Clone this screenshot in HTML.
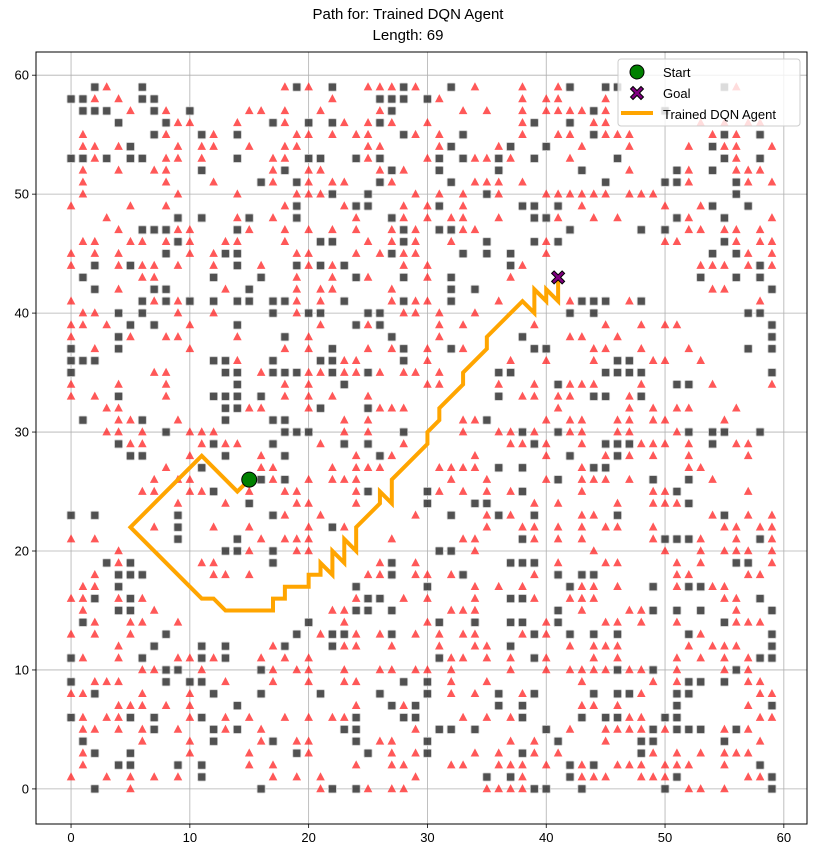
<!DOCTYPE html>
<html><head><meta charset="utf-8"><style>
html,body{margin:0;padding:0;background:#fff;}
svg{display:block;font-family:"Liberation Sans","DejaVu Sans",sans-serif;}
</style></head><body>
<svg id="chart" width="817" height="856" viewBox="0 0 817 856" xmlns="http://www.w3.org/2000/svg">
<rect width="817" height="856" fill="#fff"/>
<text x="408" y="19" text-anchor="middle" font-size="15" fill="#000">Path for: Trained DQN Agent</text>
<text x="408" y="40" text-anchor="middle" font-size="15" fill="#000">Length: 69</text>
<g id="grid"></g>
<g id="obstacles"></g>
<g id="pathg"></g>
<g id="axes"></g>
<g id="legend"></g>
</svg>
<script>
// ---- data ----
const xTicks = [0,10,20,30,40,50,60];
const yTicks = [0,10,20,30,40,50,60];
const pathX = [15,14,11,5,11,12,13,17,17,18,18,20,20,21,21,22,22,23,23,24,24,26,26,27,27,30,30,31,31,33,33,35,35,38,39,39,40,40,41,41];
const pathY = [26,25,28,22,16,16,15,15,16,16,17,17,18,18,19,18,20,19,21,20,22,24,25,24,26,29,30,31,32,34,35,37,38,41,40,42,41,42,41,43];
const startPt = [15,26];
const goalPt = [41,43];
// triangle obstacles: index = y, values = x
const triRows = [
[5,21,25,27,28,35,36,37,38,52,53,55],
[0,3,5,7,9,17,19,21,29,38,43,44,45,48,49,50,57,58],
[1,15,17,24,27,28,32,33,36,37,38,40,43,46,47,48,50,51,52,55],
[1,10,15,20,27,29,34,36,39,41,49,51,53,55,56,57],
[6,10,16,19,20,26,27,37,39,45,58],
[1,2,4,6,9,13,16,29,42,45,46,47,48,50,55,57],
[1,3,4,10,13,15,18,20,22,23,33,35,37,47,48,58,59],
[4,5,6,8,10,24,28,43,44,46,57],
[0,1,6,10,32,34,38,48,58,59],
[2,3,4,13,17,20,23,24,32,35,43,49,51,57,58],
[6,7,11,17,19,20,23,26,27,29,30,32,37,40,42,43,44,45,47,48,51,55,57],
[1,4,9,10,12,16,18,20,32,33,35,37,40,44,46,51,53,55,57],
[4,17,23,24,27,31,34,35,42,44,45,46,52,54,55,56],
[0,2,5,21,24,26,29,31,33,34,38,40,53],
[2,5,6,9,23,30,40,45,46,48,51,56,57,58],
[1,7,22,23,32,33,34,43,47,48,56],
[0,1,4,6,24,28,30,34,39,42,43,44,55,56],
[1,2,34,36,38,43,44,46,51,54,55],
[2,12,13,15,25,26,29,30,32,39,51,52,57,58],
[4,11,12,26,29,41,45,46,51,53,59],
[4,15,19,20,34,44,50,53,55,56,57,59],
[0,2,16,18,19,20,27,33,34,39,41,43,49,53,56,59],
[7,12,15,20,23,35,38,39,41,43,45,46,49,55,56,58,59],
[18,21,29,35,37,43,44,54,57,59],
[9,13,19,20,24,39,41,46,49,50,51],
[6,7,10,11,15,18,19,24,31,33,35,37,43,49,50,57],
[7,9,10,17,20,22,23,24,32,35,40,43,44,45,47,54],
[8,16,17,22,24,25,26,31,32,33,34,43,52,53],
[10,16,24,27,34,40,45,47,49,52,57],
[5,6,11,13,14,21,28,37,38,40,43,48,49,50,52,56,57],
[3,4,6,10,11,12,23,25,33,36,37,39,42,43,46,47,51],
[4,5,9,23,25,33,34,40,42,43,46,47,49,50,55],
[3,4,15,16,20,26,27,28,41,47,49,51,52,56],
[0,2,8,18,20,22,25,38,39,41,42,47],
[0,4,8,18,20,30,31,36,39,42,43,44,48,54,59],
[7,8,16,20,21,23,24,26,28,29,31],
[14,23,24,30,37,40,44,49,50,53],
[2,10,18,20,25,27,30,33,44,45,48,52],
[0,5,8,9,14,20,31,42,43,46],
[0,1,3,10,21,25,31,33,39,45,48,50,51],
[1,2,9,12,19,28,29,31,34],
[0,7,9,19,21,27,29,30,36,42,47,58],
[4,13,19,21,22,27,54,55],
[6,7,19,22,25,30,37],
[0,4,6,7,9,12,16,20,22,28,30,38,53,54,55,57,59],
[0,2,4,10,12,19,20,24,26,28,29,40,57,59],
[1,2,5,6,8,10,13,14,18,25,27,29,32,40,50,51,56,58,59],
[4,9,10,15,18,20,22,24,27,29,33,34,52,53,55,56,58],
[3,14,17,24,28,30,32,33,36,41,44,46,52,59],
[0,5,8,18,23,28,30,33,43,50,53],
[1,9,14,19,20,21,29,31,33,36,40,41,42,43,44,45,47,48,49],
[1,8,12,17,20,22,23,27,34,35,36,38,52,57,59],
[1,4,7,8,17,20,21,26,28,47,52,56,57,58],
[2,8,9,11,17,18,25,30,34,35,37,42,56],
[1,2,4,9,11,12,15,18,19,25,26,31,36,43,47,52,55,56,59],
[1,8,12,19,20,22,24,25,29,31,38,41,42,45,46,47,54,56],
[9,10,14,18,23,25,27,30,38,44,45,53,55,57,58],
[5,8,15,16,18,21,26,33,35,38,40,41,42,43,45],
[2,4,22,31,38,40,41,45],
[3,18,20,25,26,27,29,34,38,41,56]
];
// square obstacles: index = y, values = x
const sqRows = [
[2,16,22,24,39,40,43,50,59],
[11,35,37,42,51,59],
[4,5,9,11,42,44,58],
[2,5,19,25,30,38,48],
[1,12,17,24,30,41,48,49,55],
[7,12,14,23,24,31,32,34,40,49,51,52,53,56],
[0,5,7,11,24,28,29,38,43,45,46,50,51],
[14,27,29,36,38,51,59],
[2,12,16,21,26,30,36,39,44,46,47,51,52],
[0,8,10,11,28,30,52,53,55],
[8,9,16,46,49,56],
[0,6,11,13,31,39,58,59],
[7,11,13,18,22,37,59],
[8,19,22,23,27,39,42,44,46,52,59],
[1,20,31,34,37,38,41,55],
[4,5,24,25,27,41,49,51,53,59],
[2,5,25,26,37,38,58],
[4,24,30,42,49,52,53],
[4,5,6,27,33,41,43,44],
[3,5,17,27,37,38,39,56,57],
[13,14,17,31,32],
[9,14,38,50,51,52,58],
[9,22],
[0,2,9,17,32,36,39,46,55],
[15,30,34,35,52],
[12,25,30,38,51],
[16,18,41,49,52],
[11,36,38,44,45],
[5,6,13,18,26,42,46],
[4,12,17,23,25,39,45,46,47,54],
[8,18,19,20,28,38,41,52,54,55,58],
[1,6,13,17,18,35],
[13,14,21,25],
[4,12,13,14,16,36,44,45,48],
[14,23,41,51,52],
[0,13,14,17,18,19,22,25,36,37,45,46,47,48,59],
[0,1,2,12,13,17,21,22,28,46,47],
[0,4,22,28,32,39,40,57,59],
[4,18,27,38,59],
[5,7,14,24,26,59],
[4,6,17,20,21,25,26,42,44,57,58],
[6,8,10,12,14,15,17,18,23,28,32,43,44,45,48],
[2,7,8,15,32,34,59],
[1,12,16,24,28,32,53,56,58],
[2,5,14,19,21,23,37,58],
[8,13,14,27,33,35,37,54,56],
[9,21,22,28,35,39,41,55],
[6,7,8,14,28,31,32,42,48,50],
[9,11,15,19,27,39,40,51,55],
[19,24,25,31,38,39,41,54,57],
[22,25,35,56],
[16,19,26,32,45,50,51,56],
[11,18,27,31,36,43,51,54],
[0,1,3,5,6,14,20,21,24,26,31,33,36,39,46,55,58],
[5,32,37,40,54],
[7,11,14,28,33,44,55,58],
[4,8,17,20,22,26,39,42],
[1,2,3,7,10,27,44,50],
[0,1,6,7,26,27,28,30],
[2,6,19,22,28,32,42,45,46,55]
];

// ---- axes ----
const L=36,R=807,T=52,B=824, DMIN=-2.95, DMAX=61.95;
const sx = v => L + (v-DMIN)/(DMAX-DMIN)*(R-L);
const sy = v => B - (v-DMIN)/(DMAX-DMIN)*(B-T);
const NS="http://www.w3.org/2000/svg";
function mk(tag, attrs, parent){const e=document.createElementNS(NS,tag);for(const k in attrs)e.setAttribute(k,attrs[k]);parent.appendChild(e);return e;}

const grid=document.getElementById('grid');
xTicks.forEach(t=>{const l=mk('line',{x1:sx(t),x2:sx(t),y1:T,y2:B,stroke:'#b0b0b0','stroke-width':0.8},grid);

});
yTicks.forEach(t=>{const l=mk('line',{x1:L,x2:R,y1:sy(t),y2:sy(t),stroke:'#b0b0b0','stroke-width':0.8},grid);

});

const obs=document.getElementById('obstacles');
triRows.forEach((row,y)=>{row.forEach(x=>{
  const cx=sx(x), cy=sy(y);
  const p=mk('polygon',{points:`${cx},${cy-4.8} ${cx-4.3},${cy+3.3} ${cx+4.3},${cy+3.3}`,fill:'#ff2020','fill-opacity':0.75},obs);
  
  
});});
sqRows.forEach((row,y)=>{row.forEach(x=>{
  const cx=sx(x), cy=sy(y);
  const r=mk('rect',{x:cx-4,y:cy-4,width:8,height:8,rx:1,fill:'#333','fill-opacity':0.85,stroke:'#ccc','stroke-width':0.8},obs);
  
  
});});

const pg=document.getElementById('pathg');
const pts=pathX.map((x,i)=>sx(x)+','+sy(pathY[i])).join(' ');
const pl=mk('polyline',{points:pts,fill:'none',stroke:'#FFA500','stroke-width':4,'stroke-linejoin':'miter'},pg);


const st=mk('circle',{cx:sx(startPt[0]),cy:sy(startPt[1]),r:7.5,fill:'#008000',stroke:'#000','stroke-width':1},pg);


function xMarker(cx,cy,s,parent){
  const d=`M${cx-s},${cy-s+2.5} L${cx-s+2.5},${cy-s} L${cx},${cy-2.5} L${cx+s-2.5},${cy-s} L${cx+s},${cy-s+2.5} L${cx+2.5},${cy} L${cx+s},${cy+s-2.5} L${cx+s-2.5},${cy+s} L${cx},${cy+2.5} L${cx-s+2.5},${cy+s} L${cx-s},${cy+s-2.5} L${cx-2.5},${cy} Z`;
  return mk('path',{d:d,fill:'#800080',stroke:'#000','stroke-width':1},parent);
}
const gm=xMarker(sx(goalPt[0]),sy(goalPt[1]),6.5,pg);



const ax=document.getElementById('axes');
const fr=mk('rect',{x:L,y:T,width:R-L,height:B-T,fill:'none',stroke:'#000','stroke-width':1},ax);


xTicks.forEach(t=>{
  mk('line',{x1:sx(t),x2:sx(t),y1:B,y2:B+4,stroke:'#000','stroke-width':0.8},ax);
  const tx=mk('text',{x:sx(t),y:B+18,'text-anchor':'middle','font-size':13,fill:'#000'},ax);
  tx.textContent=t;
  
  
});
yTicks.forEach(t=>{
  mk('line',{x1:L-4,x2:L,y1:sy(t),y2:sy(t),stroke:'#000','stroke-width':0.8},ax);
  const tx=mk('text',{x:L-7,y:sy(t)+4.5,'text-anchor':'end','font-size':13,fill:'#000'},ax);
  tx.textContent=t;
  
  
});

const lg=document.getElementById('legend');
const lb=mk('rect',{x:618,y:59,width:182,height:67,rx:3,fill:'#fff','fill-opacity':0.8,stroke:'#ccc','stroke-width':1},lg);


const lc=mk('circle',{cx:637,cy:72,r:7,fill:'#008000',stroke:'#000','stroke-width':1},lg);


const lx=xMarker(637,93,6.5,lg);


const ll=mk('line',{x1:621,x2:653,y1:113,y2:113,stroke:'#FFA500','stroke-width':4},lg);


[['Start',77,'legend-start-label'],['Goal',98,'legend-goal-label'],['Trained DQN Agent',119,'legend-path-label']].forEach(a=>{
  const t=mk('text',{x:663,y:a[1],'font-size':13,fill:'#000'},lg);
  t.textContent=a[0];
  
  
});
</script>
</body></html>
